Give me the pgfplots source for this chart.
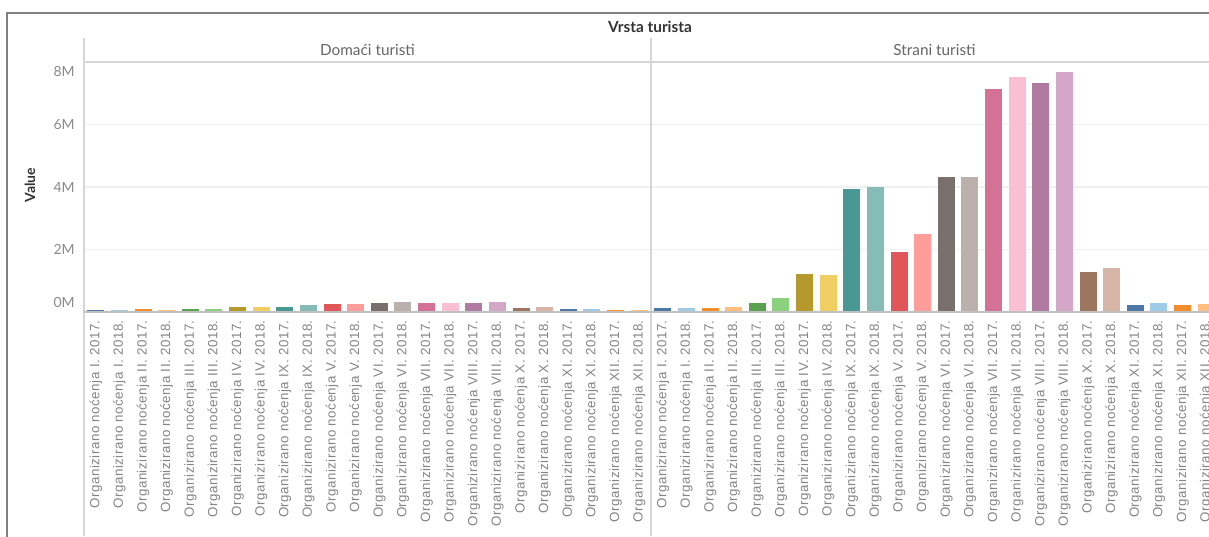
\documentclass[border=0pt]{standalone}
\usepackage{fontspec}
\setmainfont{Lato}
\newfontfamily\lab[LetterSpace=4]{Liberation Sans}
\usepackage{pgfplots}
\pgfplotsset{compat=1.18}
\definecolor{c1}{HTML}{4E79A7}\definecolor{c2}{HTML}{A0CBE8}
\definecolor{c3}{HTML}{F28E2B}\definecolor{c4}{HTML}{FFBE7D}
\definecolor{c5}{HTML}{59A14F}\definecolor{c6}{HTML}{8CD17D}
\definecolor{c7}{HTML}{B6992D}\definecolor{c8}{HTML}{F1CE63}
\definecolor{c9}{HTML}{499894}\definecolor{c10}{HTML}{86BCB6}
\definecolor{c11}{HTML}{E15759}\definecolor{c12}{HTML}{FF9D9A}
\definecolor{c13}{HTML}{79706E}\definecolor{c14}{HTML}{BAB0AC}
\definecolor{c15}{HTML}{D37295}\definecolor{c16}{HTML}{FABFD2}
\definecolor{c17}{HTML}{B07AA1}\definecolor{c18}{HTML}{D4A6C8}
\definecolor{c19}{HTML}{9D7660}\definecolor{c20}{HTML}{D7B5A6}
\definecolor{framec}{HTML}{808080}
\definecolor{panec}{HTML}{D6D6D6}
\definecolor{gridc}{HTML}{F0F0F0}
\definecolor{tickc}{HTML}{8A8A8A}
\definecolor{labc}{HTML}{858585}
\definecolor{headc}{HTML}{666666}
\definecolor{titlec}{HTML}{333333}
\newcommand{\bb}[3]{\addplot[ybar, bar width=0.72, bar shift=0pt, fill=#1, draw=none] coordinates {(#2,#3)};}
\pgfplotsset{
  panel/.style={
    anchor=south west, scale only axis, width=425.25pt, height=187.5pt,
    xmin=-0.5, xmax=23.5, ymin=0, ymax=8,
    axis line style={draw=none}, major tick length=0pt,
    ytick={2,4,6}, ymajorgrids, grid style={color=gridc, line width=0.8pt},
    xtick={0,...,23},
    xticklabels={Organizirano noćenja I. 2017., Organizirano noćenja I. 2018.,
      Organizirano noćenja II. 2017., Organizirano noćenja II. 2018.,
      Organizirano noćenja III. 2017., Organizirano noćenja III. 2018.,
      Organizirano noćenja IV. 2017., Organizirano noćenja IV. 2018.,
      Organizirano noćenja IX. 2017., Organizirano noćenja IX. 2018.,
      Organizirano noćenja V. 2017., Organizirano noćenja V. 2018.,
      Organizirano noćenja VI. 2017., Organizirano noćenja VI. 2018.,
      Organizirano noćenja VII. 2017., Organizirano noćenja VII. 2018.,
      Organizirano noćenja VIII. 2017., Organizirano noćenja VIII. 2018.,
      Organizirano noćenja X. 2017., Organizirano noćenja X. 2018.,
      Organizirano noćenja XI. 2017., Organizirano noćenja XI. 2018.,
      Organizirano noćenja XII. 2017., Organizirano noćenja XII. 2018.},
    xticklabel style={rotate=90, anchor=east, inner sep=0pt,
      font=\lab\fontsize{10}{12}\selectfont, text=labc},
    xticklabel shift=6pt,
    yticklabel style={inner sep=0pt, font=\fontsize{10.5}{12}\selectfont, text=tickc},
    yticklabel shift=6.75pt,
  }
}
\begin{document}
\begin{tikzpicture}[x=0.75pt, y=0.75pt]
\useasboundingbox (0,0) rectangle (1209,536);
\clip (0,0) rectangle (1209,536);
\fill[white] (0,0) rectangle (1209,536);
\coordinate (PA) at (84,224);
\coordinate (PB) at (651,224);
% left panel: Domaci turisti
\begin{axis}[panel, at={(PA)},
  yticklabels={2M,4M,6M},
  extra y ticks={0.32,7.7}, extra y tick labels={0M,8M},
  extra y tick style={grid=none}]
\bb{c1}{0}{0.064}
\bb{c2}{1}{0.05}
\bb{c3}{2}{0.096}
\bb{c4}{3}{0.064}
\bb{c5}{4}{0.107}
\bb{c6}{5}{0.107}
\bb{c7}{6}{0.17}
\bb{c8}{7}{0.17}
\bb{c9}{8}{0.17}
\bb{c10}{9}{0.21}
\bb{c11}{10}{0.26}
\bb{c12}{11}{0.26}
\bb{c13}{12}{0.29}
\bb{c14}{13}{0.32}
\bb{c15}{14}{0.29}
\bb{c16}{15}{0.29}
\bb{c17}{16}{0.29}
\bb{c18}{17}{0.32}
\bb{c19}{18}{0.13}
\bb{c20}{19}{0.17}
\bb{c1}{20}{0.10}
\bb{c2}{21}{0.10}
\bb{c3}{22}{0.064}
\bb{c4}{23}{0.064}
\end{axis}
% right panel: Strani turisti
\begin{axis}[panel, at={(PB)}, yticklabels={}]
\bb{c1}{0}{0.13}
\bb{c2}{1}{0.13}
\bb{c3}{2}{0.13}
\bb{c4}{3}{0.17}
\bb{c5}{4}{0.29}
\bb{c6}{5}{0.44}
\bb{c7}{6}{1.23}
\bb{c8}{7}{1.19}
\bb{c9}{8}{3.93}
\bb{c10}{9}{4.00}
\bb{c11}{10}{1.92}
\bb{c12}{11}{2.51}
\bb{c13}{12}{4.33}
\bb{c14}{13}{4.33}
\bb{c15}{14}{7.13}
\bb{c16}{15}{7.53}
\bb{c17}{16}{7.34}
\bb{c18}{17}{7.68}
\bb{c19}{18}{1.27}
\bb{c20}{19}{1.42}
\bb{c1}{20}{0.21}
\bb{c2}{21}{0.29}
\bb{c3}{22}{0.21}
\bb{c4}{23}{0.26}
\end{axis}
% decorations
\draw[panec, line width=1.1pt] (84,0) -- (84,498);
\draw[panec, line width=1.1pt] (651,0) -- (651,498);
\draw[panec, line width=1.5pt] (84,474) -- (1215,474);
\draw[panec!90!black, line width=0.8pt] (84,224) -- (1215,224);
\draw[framec, line width=1.5pt] (7,-5) -- (7,523) -- (1215,523);
\node[text=titlec, font=\bfseries\fontsize{11.5}{13}\selectfont] at (650,509) {Vrsta turista};
\node[text=headc, font=\fontsize{11.5}{13}\selectfont] at (367.5,486) {Domaći turisti};
\node[text=headc, font=\fontsize{11.5}{13}\selectfont] at (934.5,486) {Strani turisti};
\node[text=titlec, font=\bfseries\fontsize{10.5}{12}\selectfont, rotate=90] at (30,351) {Value};
\end{tikzpicture}
\end{document}
